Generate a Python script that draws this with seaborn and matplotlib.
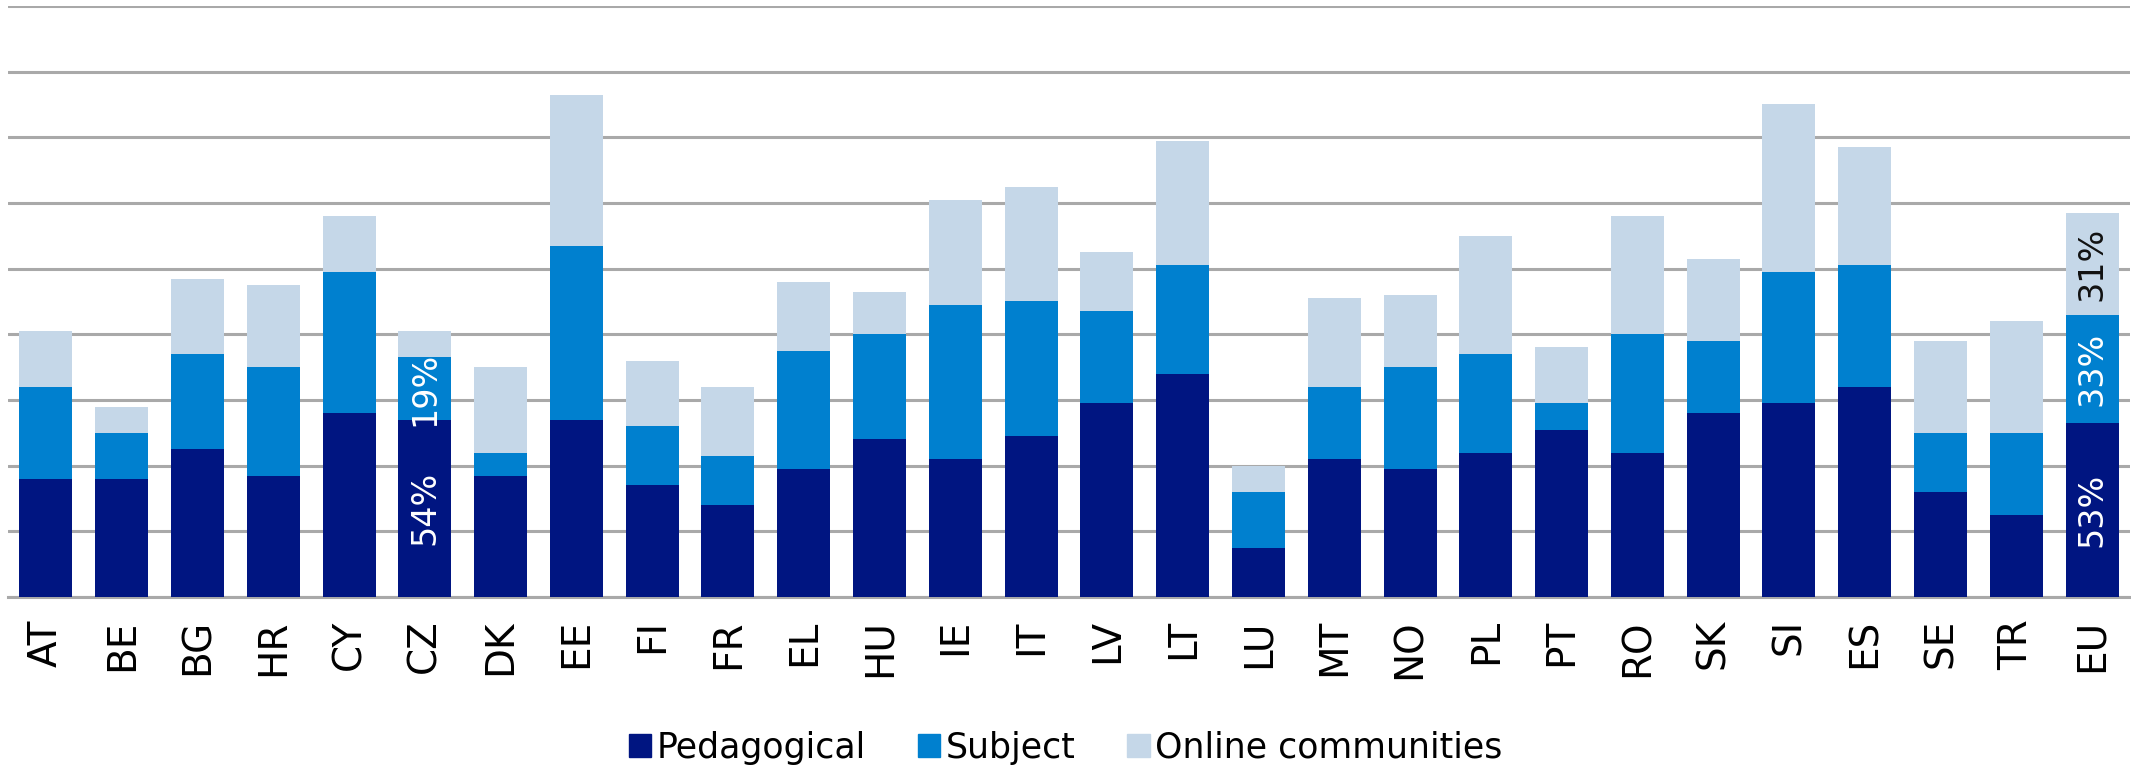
import numpy as np
import pandas as pd
import matplotlib
matplotlib.use("Agg")
import matplotlib.pyplot as plt
import seaborn as sns
from matplotlib.patches import Patch

countries = ["AT", "BE", "BG", "HR", "CY", "CZ", "DK", "EE", "FI", "FR", "EL", "HU", "IE", "IT",
             "LV", "LT", "LU", "MT", "NO", "PL", "PT", "RO", "SK", "SI", "ES", "SE", "TR", "EU"]
pedagogical = [36, 36, 45, 37, 56, 54, 37, 54, 34, 28, 39, 48, 42, 49,
               59, 68, 15, 42, 39, 44, 51, 44, 56, 59, 64, 32, 25, 53]
subject = [28, 14, 29, 33, 43, 19, 7, 53, 18, 15, 36, 32, 47, 41,
           28, 33, 17, 22, 31, 30, 8, 36, 22, 40, 37, 18, 25, 33]
online = [17, 8, 23, 25, 17, 8, 26, 46, 20, 21, 21, 13, 32, 35,
          18, 38, 8, 27, 22, 36, 17, 36, 25, 51, 36, 28, 34, 31]

# which bars carry the percentage labels
labelled = ["CZ", "EU"]

c_ped = "#001581"
c_sub = "#0080cf"
c_onl = "#c5d7e8"
grid_c = "#a9a9a9"

df = pd.DataFrame({"country": countries, "ped": pedagogical, "sub": subject, "onl": online})
df["ped_sub"] = df["ped"] + df["sub"]
df["total"] = df["ped_sub"] + df["onl"]

sns.set_style("white")
plt.rcParams["text.color"] = "black"
plt.rcParams["xtick.color"] = "black"

fig = plt.figure(figsize=(21.31, 7.78), dpi=100)
ax = fig.add_axes([8 / 2131, 1 - 597 / 778, 2122 / 2131, 591 / 778])

# stacked bars: draw cumulative totals back to front
for col, c in [("total", c_onl), ("ped_sub", c_sub), ("ped", c_ped)]:
    sns.barplot(data=df, x="country", y=col, color=c, saturation=1, width=0.7,
                ax=ax, zorder=3, linewidth=0)

ax.set_ylim(0, 180)
ax.set_xlim(-0.5, len(countries) - 0.5)
ax.set_yticks(np.arange(0, 181, 20))
ax.set_yticklabels([])
ax.yaxis.grid(True, color=grid_c, linewidth=2.2, zorder=0)
ax.set_axisbelow(True)
ax.set_xlabel("")
ax.set_ylabel("")
for s in ["left", "right", "top"]:
    ax.spines[s].set_visible(False)
ax.spines["bottom"].set_color(grid_c)
ax.spines["bottom"].set_linewidth(2.2)
ax.tick_params(axis="x", length=0, pad=16, labelsize=28, rotation=90, labelcolor="black")
ax.tick_params(axis="y", length=0)

# percentage labels inside the CZ and EU bars
for i, row in df.iterrows():
    if row["country"] not in labelled:
        continue
    ax.text(i, row["ped"] / 2, f"{row['ped']}%", rotation=90, ha="center", va="center",
            color="white", fontsize=24, zorder=5)
    ax.text(i, row["ped"] + row["sub"] / 2, f"{row['sub']}%", rotation=90, ha="center",
            va="center", color="white", fontsize=24, zorder=5)
    if row["country"] == "EU":
        ax.text(i, row["ped_sub"] + row["onl"] / 2, f"{row['onl']}%", rotation=90,
                ha="center", va="center", color="#111111", fontsize=24, zorder=5)

handles = [Patch(color=c_ped, label="Pedagogical"),
           Patch(color=c_sub, label="Subject"),
           Patch(color=c_onl, label="Online communities")]
fig.legend(handles=handles, loc="center", bbox_to_anchor=(0.5, 1 - 748 / 778), ncol=3,
           frameon=False, fontsize=25, handlelength=0.65, handleheight=0.65,
           handletextpad=0.15, columnspacing=1.5, labelcolor="black")

fig.savefig("out.png", dpi=100)
